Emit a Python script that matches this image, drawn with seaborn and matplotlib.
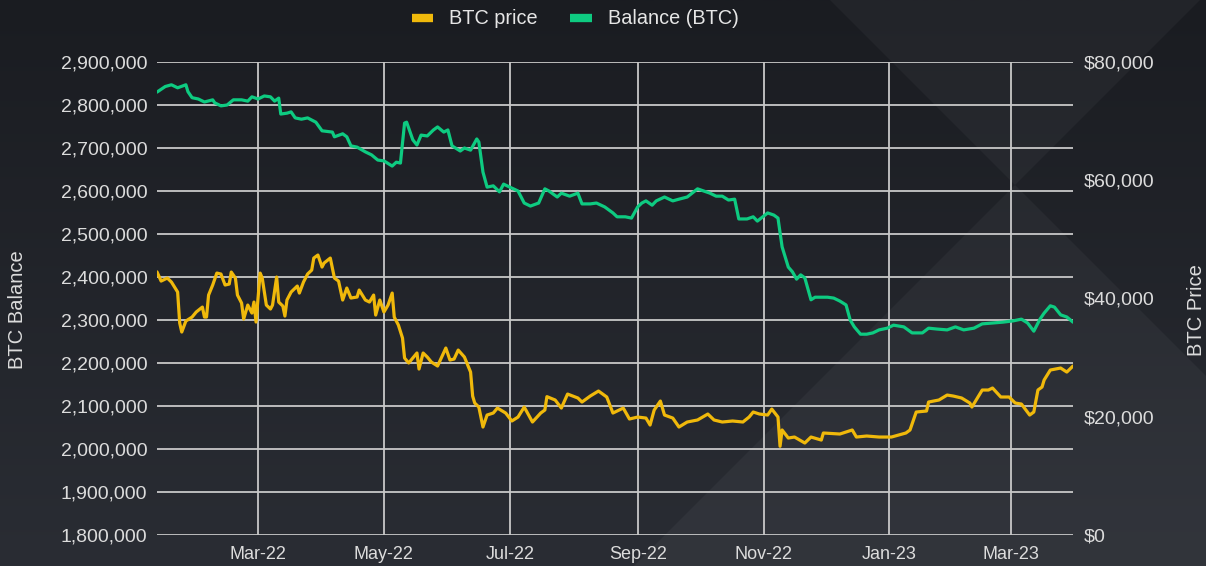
import pandas as pd
import numpy as np
import matplotlib.pyplot as plt
import matplotlib.dates as mdates
from matplotlib.ticker import FuncFormatter, MultipleLocator
from matplotlib.lines import Line2D
from matplotlib.patches import Polygon
from matplotlib.colors import LinearSegmentedColormap
import seaborn as sns

# BTC balance (left axis)
balance_dates = ["2022-01-11", "2022-01-15", "2022-01-18", "2022-01-21", "2022-01-25", "2022-01-26", "2022-01-28", "2022-01-31",
                 "2022-02-03", "2022-02-07", "2022-02-08", "2022-02-11", "2022-02-14", "2022-02-17", "2022-02-21", "2022-02-24",
                 "2022-02-26", "2022-03-01", "2022-03-04", "2022-03-07", "2022-03-09", "2022-03-11", "2022-03-12", "2022-03-15",
                 "2022-03-17", "2022-03-19", "2022-03-22", "2022-03-25", "2022-03-29", "2022-04-01", "2022-04-06", "2022-04-07",
                 "2022-04-11", "2022-04-13", "2022-04-15", "2022-04-18", "2022-04-22", "2022-04-25", "2022-04-28", "2022-05-01",
                 "2022-05-05", "2022-05-07", "2022-05-09", "2022-05-11", "2022-05-12", "2022-05-15", "2022-05-17", "2022-05-19",
                 "2022-05-22", "2022-05-25", "2022-05-27", "2022-05-30", "2022-06-01", "2022-06-03", "2022-06-07", "2022-06-09",
                 "2022-06-12", "2022-06-15", "2022-06-16", "2022-06-18", "2022-06-20", "2022-06-23", "2022-06-26", "2022-06-28",
                 "2022-07-01", "2022-07-05", "2022-07-08", "2022-07-11", "2022-07-15", "2022-07-18", "2022-07-20", "2022-07-24",
                 "2022-07-26", "2022-07-30", "2022-08-03", "2022-08-05", "2022-08-09", "2022-08-12", "2022-08-16", "2022-08-20",
                 "2022-08-22", "2022-08-26", "2022-08-29", "2022-09-01", "2022-09-03", "2022-09-05", "2022-09-08", "2022-09-10",
                 "2022-09-14", "2022-09-18", "2022-09-21", "2022-09-25", "2022-09-30", "2022-10-03", "2022-10-06", "2022-10-09",
                 "2022-10-12", "2022-10-15", "2022-10-18", "2022-10-20", "2022-10-24", "2022-10-27", "2022-10-29", "2022-11-03",
                 "2022-11-06", "2022-11-08", "2022-11-10", "2022-11-13", "2022-11-15", "2022-11-17", "2022-11-19", "2022-11-21",
                 "2022-11-24", "2022-11-26", "2022-11-28", "2022-12-02", "2022-12-05", "2022-12-08", "2022-12-11", "2022-12-13",
                 "2022-12-15", "2022-12-18", "2022-12-21", "2022-12-24", "2022-12-27", "2022-12-31", "2023-01-03", "2023-01-08",
                 "2023-01-12", "2023-01-17", "2023-01-20", "2023-01-24", "2023-01-29", "2023-02-02", "2023-02-06", "2023-02-11",
                 "2023-02-15", "2023-02-20", "2023-02-25", "2023-03-02", "2023-03-06", "2023-03-09", "2023-03-12", "2023-03-15",
                 "2023-03-17", "2023-03-20", "2023-03-22", "2023-03-25", "2023-03-28", "2023-03-31"]
balance_values = [2830000, 2843000, 2847000, 2840000, 2847000, 2831000, 2817000, 2814000,
                  2807000, 2812000, 2805000, 2798000, 2800000, 2812000, 2812000, 2809000,
                  2819000, 2814000, 2821000, 2819000, 2809000, 2816000, 2779000, 2781000,
                  2784000, 2770000, 2767000, 2770000, 2760000, 2740000, 2737000, 2726000,
                  2733000, 2726000, 2705000, 2702000, 2691000, 2684000, 2672000, 2670000,
                  2658000, 2667000, 2665000, 2758000, 2760000, 2719000, 2707000, 2730000,
                  2728000, 2742000, 2749000, 2737000, 2742000, 2705000, 2693000, 2700000,
                  2695000, 2721000, 2714000, 2644000, 2609000, 2612000, 2598000, 2616000,
                  2609000, 2600000, 2572000, 2565000, 2572000, 2605000, 2600000, 2586000,
                  2595000, 2588000, 2595000, 2570000, 2570000, 2572000, 2563000, 2549000,
                  2540000, 2540000, 2537000, 2563000, 2572000, 2577000, 2567000, 2577000,
                  2586000, 2577000, 2581000, 2586000, 2605000, 2600000, 2595000, 2588000,
                  2588000, 2579000, 2581000, 2535000, 2535000, 2540000, 2530000, 2549000,
                  2544000, 2537000, 2470000, 2423000, 2412000, 2395000, 2405000, 2398000,
                  2347000, 2353000, 2353000, 2353000, 2351000, 2344000, 2335000, 2300000,
                  2284000, 2267000, 2267000, 2270000, 2277000, 2281000, 2288000, 2284000,
                  2270000, 2270000, 2281000, 2279000, 2277000, 2284000, 2277000, 2281000,
                  2291000, 2293000, 2295000, 2298000, 2302000, 2293000, 2274000, 2302000,
                  2316000, 2333000, 2330000, 2312000, 2307000, 2295000]

# BTC price in USD (right axis)
price_dates = ["2022-01-11", "2022-01-13", "2022-01-16", "2022-01-18", "2022-01-21", "2022-01-22", "2022-01-23", "2022-01-25",
               "2022-01-28", "2022-01-30", "2022-02-02", "2022-02-03", "2022-02-04", "2022-02-05", "2022-02-07", "2022-02-09",
               "2022-02-11", "2022-02-13", "2022-02-15", "2022-02-16", "2022-02-18", "2022-02-19", "2022-02-21", "2022-02-22",
               "2022-02-24", "2022-02-26", "2022-02-27", "2022-02-28", "2022-03-02", "2022-03-03", "2022-03-05", "2022-03-07",
               "2022-03-08", "2022-03-10", "2022-03-11", "2022-03-13", "2022-03-14", "2022-03-15", "2022-03-17", "2022-03-20",
               "2022-03-21", "2022-03-23", "2022-03-25", "2022-03-27", "2022-03-28", "2022-03-30", "2022-04-01", "2022-04-02",
               "2022-04-05", "2022-04-07", "2022-04-09", "2022-04-11", "2022-04-13", "2022-04-15", "2022-04-18", "2022-04-19",
               "2022-04-22", "2022-04-24", "2022-04-26", "2022-04-27", "2022-04-29", "2022-05-01", "2022-05-03", "2022-05-05",
               "2022-05-06", "2022-05-08", "2022-05-10", "2022-05-11", "2022-05-13", "2022-05-15", "2022-05-17", "2022-05-18",
               "2022-05-20", "2022-05-22", "2022-05-24", "2022-05-27", "2022-05-31", "2022-06-02", "2022-06-04", "2022-06-06",
               "2022-06-09", "2022-06-12", "2022-06-13", "2022-06-14", "2022-06-16", "2022-06-18", "2022-06-20", "2022-06-23",
               "2022-06-25", "2022-06-29", "2022-07-02", "2022-07-05", "2022-07-08", "2022-07-12", "2022-07-16", "2022-07-18",
               "2022-07-19", "2022-07-23", "2022-07-26", "2022-07-29", "2022-08-03", "2022-08-05", "2022-08-09", "2022-08-13",
               "2022-08-17", "2022-08-20", "2022-08-25", "2022-08-28", "2022-09-01", "2022-09-05", "2022-09-07", "2022-09-09",
               "2022-09-12", "2022-09-14", "2022-09-18", "2022-09-21", "2022-09-25", "2022-09-30", "2022-10-05", "2022-10-08",
               "2022-10-12", "2022-10-17", "2022-10-22", "2022-10-25", "2022-10-27", "2022-10-30", "2022-11-03", "2022-11-05",
               "2022-11-08", "2022-11-09", "2022-11-10", "2022-11-13", "2022-11-16", "2022-11-21", "2022-11-24", "2022-11-29",
               "2022-11-30", "2022-12-08", "2022-12-14", "2022-12-16", "2022-12-21", "2022-12-27", "2023-01-02", "2023-01-09",
               "2023-01-11", "2023-01-14", "2023-01-19", "2023-01-20", "2023-01-25", "2023-01-29", "2023-02-01", "2023-02-05",
               "2023-02-09", "2023-02-10", "2023-02-15", "2023-02-18", "2023-02-20", "2023-02-24", "2023-02-28", "2023-03-03",
               "2023-03-06", "2023-03-10", "2023-03-12", "2023-03-14", "2023-03-16", "2023-03-17", "2023-03-20", "2023-03-25",
               "2023-03-28", "2023-03-31"]
price_values = [44500, 42950, 43460, 42780, 41090, 35850, 34330, 36190,
                36860, 37710, 38550, 36860, 36860, 40580, 42280, 44300,
                44140, 42280, 42440, 44470, 43460, 40580, 39230, 36520,
                38890, 37540, 39400, 36020, 44300, 43460, 38890, 38220,
                38890, 43630, 39400, 38720, 37030, 39740, 41090, 42110,
                40920, 42780, 44140, 44810, 46840, 47350, 45320, 46000,
                46840, 43460, 42950, 39740, 41770, 40080, 40250, 41430,
                39740, 39400, 40580, 37200, 39740, 37710, 38890, 40920,
                36860, 35510, 33310, 29930, 29090, 29930, 30780, 28070,
                30780, 30100, 29250, 28580, 31620, 29590, 29760, 31280,
                30100, 27560, 23500, 22320, 21640, 18260, 20290, 20630,
                21470, 20630, 19280, 19950, 21640, 19110, 20630, 21140,
                23400, 22830, 21470, 23840, 23170, 22490, 23500, 24350,
                23340, 20630, 21470, 19620, 19950, 19780, 18600, 21140,
                22660, 20290, 19780, 18260, 19110, 19450, 20460, 19450,
                19110, 19280, 19110, 19950, 20800, 20460, 20290, 21300,
                19950, 15000, 17760, 16400, 16570, 15560, 16570, 16060,
                17250, 17080, 17760, 16570, 16740, 16570, 16570, 17250,
                17760, 20800, 20970, 22490, 22830, 23670, 23500, 23170,
                22320, 21640, 24520, 24520, 24860, 23340, 23340, 22320,
                22150, 20290, 20800, 24520, 25030, 26210, 27900, 28240,
                27560, 28580]

legend_labels = ["BTC price", "Balance (BTC)"]

yellow = "#F0B90B"
green = "#0ECB81"
text_col = "#dcdcdc"
grid_col = "#c8c8c8"

sns.set_theme(style="dark")
plt.rcParams['font.family'] = ['Liberation Sans', 'DejaVu Sans']

bal = pd.DataFrame({'date': pd.to_datetime(balance_dates), 'balance': balance_values})
price = pd.DataFrame({'date': pd.to_datetime(price_dates), 'price': price_values})

W, H = 1206, 566
fig = plt.figure(figsize=(W / 100, H / 100), dpi=100)
fig.patch.set_facecolor('#1e2026')

# background: vertical gradient plus soft diagonal shapes
bg = fig.add_axes([0, 0, 1, 1], zorder=-10)
cmap = LinearSegmentedColormap.from_list('bg', ['#1a1c21', '#2a2d34'])
bg.imshow(np.linspace(0, 1, 256).reshape(-1, 1), aspect='auto', cmap=cmap, extent=[0, W, H, 0])
for pts in [[(830, 0), (1200, 0), (1015, 185)],
            [(1015, 185), (634, 566), (1206, 566), (1206, 376)]]:
    bg.add_patch(Polygon(pts, closed=True, fc='white', alpha=0.04, lw=0))
bg.set_xlim(0, W)
bg.set_ylim(H, 0)
bg.axis('off')

ax = fig.add_axes([157 / W, 31 / H, 916 / W, 473 / H])
ax.set_facecolor('none')
ax2 = ax.twinx()

sns.lineplot(data=bal, x='date', y='balance', ax=ax, color=green, lw=2.3)
sns.lineplot(data=price, x='date', y='price', ax=ax2, color=yellow, lw=2.3)

ax.set_xlim(pd.Timestamp("2022-01-11"), pd.Timestamp("2023-03-31"))
ax.set_ylim(1800000, 2900000)
ax2.set_ylim(0, 80000)

ax.yaxis.set_major_locator(MultipleLocator(100000))
ax.yaxis.set_major_formatter(FuncFormatter(lambda v, p: f"{v:,.0f}"))
ax2.yaxis.set_major_locator(MultipleLocator(20000))
ax2.yaxis.set_major_formatter(FuncFormatter(lambda v, p: f"${v:,.0f}"))
ax.xaxis.set_major_locator(mdates.MonthLocator(bymonth=[1, 3, 5, 7, 9, 11]))
ax.xaxis.set_major_formatter(mdates.DateFormatter("%b-%y"))

ax.grid(True, color=grid_col, lw=1.3)
ax2.grid(False)
for a in (ax, ax2):
    for s in a.spines.values():
        s.set_visible(False)
    a.set_xlabel("")
    a.set_ylabel("")
ax.tick_params(axis='y', length=0, labelsize=14, labelcolor=text_col, pad=7)
ax.tick_params(axis='x', length=0, labelsize=13, labelcolor=text_col, pad=8)
ax2.tick_params(axis='y', length=0, labelsize=14, labelcolor=text_col, pad=8)

fig.text(18 / W, 1 - 310 / H, "BTC Balance", rotation=90, ha='center', va='center', fontsize=14.5, color=text_col)
fig.text(1197 / W, 1 - 310 / H, "BTC Price", rotation=90, ha='center', va='center', fontsize=14.5, color=text_col)

handles = [Line2D([], [], color=yellow, lw=6, solid_capstyle='butt'),
           Line2D([], [], color=green, lw=6, solid_capstyle='butt')]
fig.legend(handles, legend_labels, loc='center', bbox_to_anchor=(575 / W, 1 - 19 / H), ncol=2,
           frameon=False, fontsize=14.3, labelcolor='#e6e6e6', handlelength=1.1, columnspacing=1.6, handletextpad=0.8)

fig.savefig("out.png", dpi=100, facecolor=fig.get_facecolor())
